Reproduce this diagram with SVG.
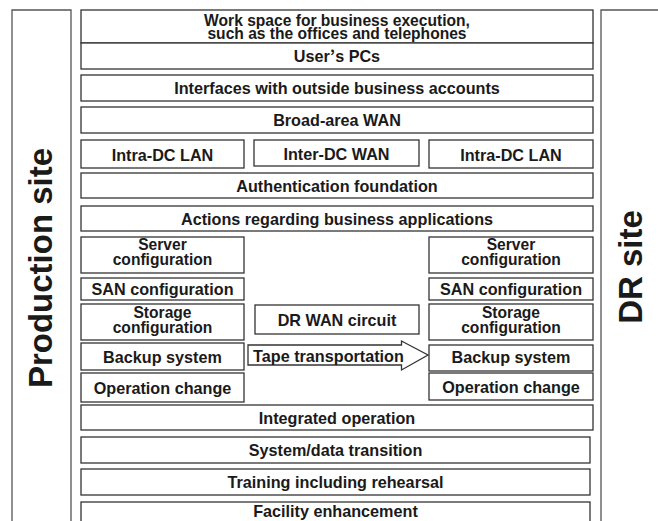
<svg xmlns="http://www.w3.org/2000/svg" width="658" height="521" viewBox="0 0 658 521">
<style>
  .b{fill:#fff;stroke:#333;stroke-width:1.3}
  .p{fill:none;stroke:#555;stroke-width:1.3}
  text{font-family:"Liberation Sans",Arial,sans-serif;font-weight:bold;font-size:16.2px;fill:#1a1a1a;text-anchor:middle}
  .big{font-size:33px}
  .s{font-size:15.6px}
</style>
<rect width="658" height="521" fill="#fff"/>
<g id="production-site">
  <path class="p" d="M12,521 V10 H71 V521"/>
  <text class="big" transform="translate(52,268) rotate(-90)">Production site</text>
</g>
<g id="dr-site">
  <path class="p" d="M658,10 H601 V521"/>
  <text class="big" transform="translate(642,267) rotate(-90)">DR site</text>
</g>
<g id="workspace">
  <rect class="b" x="81" y="10" width="512" height="33"/>
  <text class="s" x="337" y="26">Work space for business execution,</text>
  <text class="s" x="337" y="39">such as the offices and telephones</text>
</g>
<g id="users-pcs">
  <rect class="b" x="81" y="43" width="512" height="26"/>
  <text x="337" y="61.5">User<tspan font-family="Noto Sans CJK JP">’</tspan>s PCs</text>
</g>
<g id="interfaces">
  <rect class="b" x="81" y="75" width="512" height="26"/>
  <text x="337" y="93.5">Interfaces with outside business accounts</text>
</g>
<g id="broad-wan">
  <rect class="b" x="81" y="107" width="512" height="26"/>
  <text x="337" y="125.5">Broad-area WAN</text>
</g>
<g id="intra-lan-prod">
  <rect class="b" x="81" y="140" width="163" height="28"/>
  <text x="162.5" y="160.5">Intra-DC LAN</text>
</g>
<g id="inter-wan">
  <rect class="b" x="254" y="140" width="165" height="26"/>
  <text x="336.5" y="159.5">Inter-DC WAN</text>
</g>
<g id="intra-lan-dr">
  <rect class="b" x="429" y="140" width="164" height="28"/>
  <text x="511" y="160.5">Intra-DC LAN</text>
</g>
<g id="authentication">
  <rect class="b" x="81" y="173" width="512" height="25"/>
  <text x="337" y="191.5">Authentication foundation</text>
</g>
<g id="actions">
  <rect class="b" x="81" y="206" width="512" height="25"/>
  <text x="337" y="224.5">Actions regarding business applications</text>
</g>
<g id="server-prod">
  <rect class="b" x="81" y="237" width="163" height="36"/>
  <text class="s" x="162.5" y="250">Server</text>
  <text class="s" x="162.5" y="265">configuration</text>
</g>
<g id="server-dr">
  <rect class="b" x="429" y="237" width="164" height="36"/>
  <text class="s" x="511" y="250">Server</text>
  <text class="s" x="511" y="265">configuration</text>
</g>
<g id="san-prod">
  <rect class="b" x="81" y="278" width="163" height="22"/>
  <text x="162.5" y="294.5">SAN configuration</text>
</g>
<g id="san-dr">
  <rect class="b" x="429" y="278" width="164" height="22"/>
  <text x="511" y="294.5">SAN configuration</text>
</g>
<g id="storage-prod">
  <rect class="b" x="81" y="304" width="163" height="36"/>
  <text class="s" x="162.5" y="317.5">Storage</text>
  <text class="s" x="162.5" y="332.5">configuration</text>
</g>
<g id="dr-wan">
  <rect class="b" x="255" y="305" width="164" height="29"/>
  <text x="337" y="325.5">DR WAN circuit</text>
</g>
<g id="storage-dr">
  <rect class="b" x="429" y="304" width="164" height="36"/>
  <text class="s" x="511" y="317.5">Storage</text>
  <text class="s" x="511" y="332.5">configuration</text>
</g>
<g id="backup-prod">
  <rect class="b" x="81" y="343" width="163" height="27"/>
  <text x="162.5" y="362.5">Backup system</text>
</g>
<g id="connectors">
  <g id="tape-transportation">
    <path class="b" d="M248,345 H401.5 V341 L428,355 L401.5,370 V365 H248 Z"/>
    <text x="328.5" y="362">Tape transportation</text>
  </g>
</g>
<g id="backup-dr">
  <rect class="b" x="429" y="345" width="164" height="26"/>
  <text x="511" y="363">Backup system</text>
</g>
<g id="opchange-prod">
  <rect class="b" x="81" y="373" width="163" height="29"/>
  <text x="162.5" y="393.5">Operation change</text>
</g>
<g id="opchange-dr">
  <rect class="b" x="429" y="373" width="164" height="27"/>
  <text x="511" y="392.5">Operation change</text>
</g>
<g id="integrated">
  <rect class="b" x="81" y="405" width="512" height="25"/>
  <text x="337" y="423.5">Integrated operation</text>
</g>
<g id="transition">
  <rect class="b" x="81" y="437" width="509" height="26"/>
  <text x="335.5" y="456">System/data transition</text>
</g>
<g id="training">
  <rect class="b" x="81" y="469" width="509" height="26"/>
  <text x="335.5" y="488">Training including rehearsal</text>
</g>
<g id="facility">
  <rect class="b" x="81" y="502" width="509" height="30"/>
  <text x="335.5" y="517">Facility enhancement</text>
</g>
</svg>
